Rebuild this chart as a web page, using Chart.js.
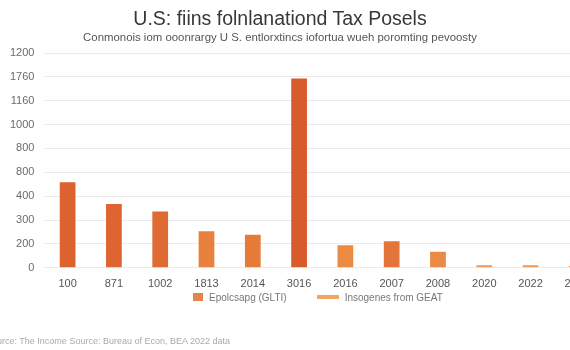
<!DOCTYPE html>
<html>
<head>
<meta charset="utf-8">
<script src="https://cdn.jsdelivr.net/npm/chart.js"></script>
<style>
	body { margin: 0; background: #fff; overflow: hidden; font-family: "Liberation Sans", Arial, sans-serif; }
	#wrap { position: relative; width: 570px; height: 350px; overflow: hidden; }
	#chartBox { position: absolute; left: 0; top: 0; width: 600px; height: 350px; }
	.title { position: absolute; left: 80px; width: 400px; text-align: center; white-space: nowrap; }
	#title { top: 7px; font-size: 19.5px; color: #383838; }
	#subtitle { top: 31px; font-size: 11.4px; color: #555; }
	#legend { position: absolute; left: 193px; top: 291px; font-size: 10px; color: #777; white-space: nowrap; }
	#legend span { display: inline-block; vertical-align: middle; }
	#footer { position: absolute; left: -14px; top: 336px; font-size: 9px; color: #aaa; white-space: nowrap; }
</style>
</head>
<body>
<div id="wrap">
	<div id="chartBox"><canvas id="mycanvas" width="600" height="350"></canvas></div>
	<div class="title" id="title"></div>
	<div class="title" id="subtitle"></div>
	<div id="legend"></div>
	<div id="footer"></div>
</div>
<script>
var titleText = "U.S: fiins folnlanationd Tax Posels";
var subtitleText = "Conmonois iom ooonrargy U S. entlorxtincs iofortua wueh poromting pevoosty";
var footerText = "Source: The Income Source: Bureau of Econ, BEA 2022 data";

var years = ["100", "871", "1002", "1813", "2014", "3016", "2016", "2007", "2008", "2020", "2022", "2024"];
// values in axis units (one grid step = 100)
var taxValues = [358, 267, 236, 153, 138, 793, 94, 111, 67, 11, 11, 8];
var barColors = ["#dc6230", "#de6431", "#e06a34", "#e8813d", "#e67a38", "#d95a2b", "#ec8a42", "#e3743a", "#ec8a45", "#ee9a5a", "#ee9a5a", "#ee9a5a"];
var yTickLabels = ["0", "200", "300", "400", "800", "800", "1000", "1160", "1760", "1200"];
var legendNames = ["Epolcsapg (GLTI)", "Insogenes from GEAT"];
var legendColors = ["#e8844a", "#f2a463"];

document.getElementById("title").textContent = titleText;
document.getElementById("subtitle").textContent = subtitleText;
document.getElementById("footer").textContent = footerText;

// legend: square swatch, then a flat bar swatch
var legendHtml = "";
legendHtml += '<span style="width:10px;height:8px;background:' + legendColors[0] + ';margin-right:6px"></span>';
legendHtml += '<span>' + legendNames[0] + '</span>';
legendHtml += '<span style="width:22px;height:4px;background:' + legendColors[1] + ';margin:0 6px 0 30px"></span>';
legendHtml += '<span>' + legendNames[1] + '</span>';
document.getElementById("legend").innerHTML = legendHtml;

var chartdata = {
	labels: years,
	datasets: [
		{
			label: legendNames[0],
			backgroundColor: barColors,
			borderWidth: 0,
			barPercentage: 0.34,
			categoryPercentage: 1,
			data: taxValues
		}
	]
};

var ctx = document.getElementById("mycanvas");

var barGraph = new Chart(ctx, {
	type: 'bar',
	data: chartdata,
	options: {
		responsive: false,
		animation: false,
		layout: { padding: { top: 53, left: 0, right: 0, bottom: 49 } },
		plugins: {
			legend: { display: false },
			title: { display: false },
			tooltip: { enabled: false }
		},
		scales: {
			x: {
				grid: { display: false, drawTicks: false },
				border: { display: false },
				ticks: { color: '#555', padding: 10, maxRotation: 0, autoSkip: false, font: { family: 'Liberation Sans', size: 11 } }
			},
			y: {
				min: 0,
				max: 900,
				grid: { color: '#ebebeb', drawTicks: false },
				border: { display: false },
				ticks: {
					stepSize: 100,
					padding: 10,
					color: '#6b6b6b',
					font: { family: 'Liberation Sans', size: 11 },
					callback: function(value) {
						return yTickLabels[Math.round(value / 100)];
					}
				}
			}
		}
	}
});
</script>
</body>
</html>
